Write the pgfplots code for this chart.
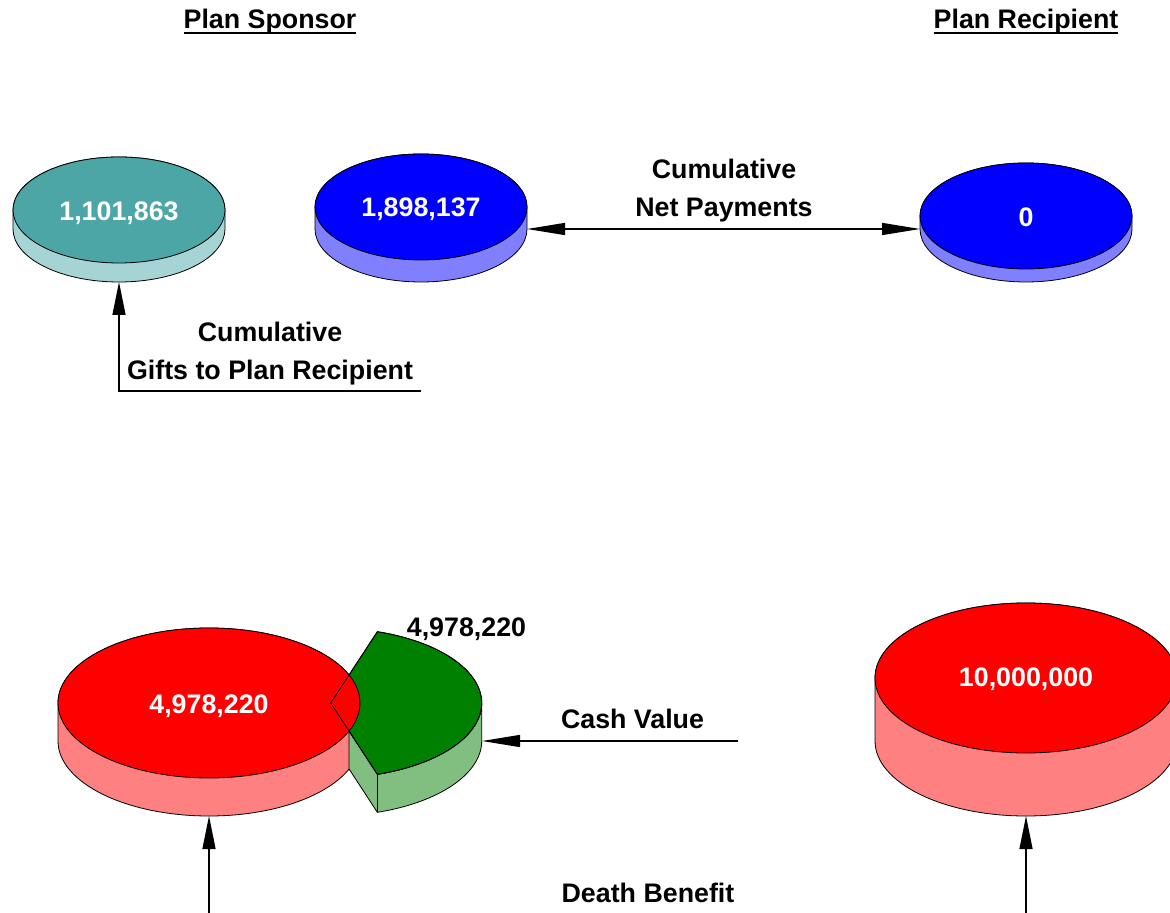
\documentclass[border=0pt]{standalone}
\usepackage{fontspec}
\setmainfont{Liberation Sans}
\usepackage{pgfplots}
\usepackage{pgfplotstable}
\pgfplotsset{compat=1.18}
\usetikzlibrary{arrows.meta}
\definecolor{tealface}{RGB}{76,166,166}
\definecolor{tealside}{RGB}{166,211,211}
\definecolor{blueface}{RGB}{0,0,255}
\definecolor{blueside}{RGB}{128,128,255}
\definecolor{redface}{RGB}{255,0,0}
\definecolor{redside}{RGB}{255,128,128}
\definecolor{greenface}{RGB}{0,128,0}
\definecolor{greenside}{RGB}{128,191,128}
\newsavebox\ulbox
\newcommand\ul[1]{\sbox\ulbox{#1}\rlap{\usebox\ulbox}\rule[-2.5pt]{\wd\ulbox}{1pt}}
% cx cy (axis units = px), rx ry h (pt), colour
\newcommand\diskside[6]{%
 \filldraw[fill=#6] (axis cs:#1,#2) ++(-#3,0pt) -- ++(0pt,-#5)
   arc[start angle=180,end angle=360,x radius=#3,y radius=#4] -- ++(0pt,#5)
   arc[start angle=0,end angle=180,x radius=#3,y radius=#4] -- cycle;}
\newcommand\diskface[5]{%
 \filldraw[fill=#5] (axis cs:#1,#2) ellipse[x radius=#3,y radius=#4];}

\pgfplotstableread{
x y label
119 220.5 1,101,863
421 216.5 1,898,137
1026 226.5 0
209 713 4,978,220
1026 686.5 10,000,000
}\whitelabels
\pgfplotstableread{
x y label
466.5 636 4,978,220
}\blacklabels

\begin{document}
\begin{tikzpicture}[font=\fontsize{13.4}{16}\selectfont\bfseries, line width=0.5pt]
\begin{axis}[scale only axis, width=585pt, height=456.5pt,
  xmin=0, xmax=1170, ymin=0, ymax=913, y dir=reverse,
  hide axis, clip=true]
% --- top row disks (value 1,101,863 ; 1,898,137 ; 0)
\diskside{119}{210}{53pt}{26.5pt}{9.5pt}{tealside}
\diskface{119}{210}{53pt}{26.5pt}{tealface}
\diskside{421}{207}{53pt}{26.5pt}{11pt}{blueside}
\diskface{421}{207}{53pt}{26.5pt}{blueface}
\diskside{1026}{216}{53pt}{26.5pt}{6.5pt}{blueside}
\diskface{1026}{216}{53pt}{26.5pt}{blueface}
% --- bottom row
\diskside{209}{703}{75.5pt}{37.5pt}{19pt}{redside}
% green wedge side
\filldraw[fill=greenside] (axis cs:330.7,703) ++(9.18pt,-14pt) -- ++(14.15pt,-21.66pt)
  arc[start angle=-72,end angle=0,x radius=75.5pt,y radius=37.5pt]
  -- ++(0pt,-19pt) arc[start angle=0,end angle=-72,x radius=75.5pt,y radius=37.5pt]
  -- ++(-14.15pt,21.66pt) -- cycle;
\draw (axis cs:330.7,703) ++(23.33pt,-35.66pt) -- ++(0pt,-19pt);
% green wedge face
\filldraw[fill=greenface] (axis cs:330.7,703) -- ++(23.33pt,35.66pt)
  arc[start angle=72,end angle=-72,x radius=75.5pt,y radius=37.5pt] -- cycle;
\diskface{209}{703}{75.5pt}{37.5pt}{redface}
\draw (axis cs:330.7,703) -- ++(23.33pt,35.66pt)
  arc[start angle=72,end angle=-72,x radius=75.5pt,y radius=37.5pt] -- cycle;
\diskside{1026}{678}{75.5pt}{37.5pt}{31.5pt}{redside}
\diskface{1026}{678}{75.5pt}{37.5pt}{redface}
% --- arrows
\addplot[black, line width=0.65pt, {Triangle[length=19pt,width=6pt]}-{Triangle[length=19pt,width=6pt]}]
  coordinates {(527,229) (920,229)};
\addplot[black, line width=0.65pt, -{Triangle[length=16.5pt,width=6.5pt]}]
  coordinates {(421,391) (119,391) (119,282)};
\addplot[black, line width=0.65pt, -{Triangle[length=19pt,width=6pt]}]
  coordinates {(738,741) (482,741)};
\addplot[black, line width=0.65pt, -{Triangle[length=16.5pt,width=6.5pt]}]
  coordinates {(209,913) (209,816)};
\addplot[black, line width=0.65pt, -{Triangle[length=16.5pt,width=6.5pt]}]
  coordinates {(1026,913) (1026,816)};
% --- value labels
\addplot[draw=none, mark=none, nodes near coords, point meta=explicit symbolic,
  nodes near coords align={anchor=base},
  every node near coord/.append style={text=white, inner sep=0pt, anchor=base}]
  table[x=x, y=y, meta=label] {\whitelabels};
\addplot[draw=none, mark=none, nodes near coords, point meta=explicit symbolic,
  nodes near coords align={anchor=base},
  every node near coord/.append style={text=black, inner sep=0pt, anchor=base}]
  table[x=x, y=y, meta=label] {\blacklabels};
% --- text
\node[anchor=base, inner sep=0pt] at (axis cs:270,29) {\ul{Plan Sponsor}};
\node[anchor=base, inner sep=0pt] at (axis cs:1026,29) {\ul{Plan Recipient}};
\node[anchor=base, inner sep=0pt] at (axis cs:724,178.5) {Cumulative};
\node[anchor=base, inner sep=0pt] at (axis cs:724,216.5) {Net Payments};
\node[anchor=base, inner sep=0pt] at (axis cs:270,341.5) {Cumulative};
\node[anchor=base, inner sep=0pt] at (axis cs:270,380) {Gifts to Plan Recipient};
\node[anchor=base, inner sep=0pt] at (axis cs:632.5,728.5) {Cash Value};
\node[anchor=base, inner sep=0pt] at (axis cs:648,902.5) {Death Benefit};
\end{axis}
\pgfresetboundingbox
\path (current axis.south west) rectangle (current axis.north east);
\end{tikzpicture}
\end{document}
